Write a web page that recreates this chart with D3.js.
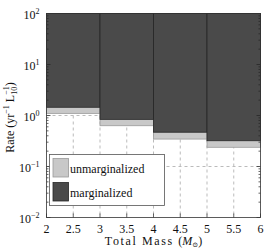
<!DOCTYPE html>
<html>
<head>
<meta charset="utf-8">
<script src="https://cdn.jsdelivr.net/npm/d3@7"></script>
<style>
  body { margin: 0; background: #fff; }
  text { font-family: "Liberation Serif", "DejaVu Serif", serif; fill: #111; }
</style>
</head>
<body>
<div id="chart"></div>
<script>
// mass bins and rate limits
const binEdges = [2, 3, 4, 5, 6];
const marginalized = [1.45, 0.84, 0.47, 0.32];
const unmarginalized = [1.10, 0.63, 0.345, 0.238];
const xTicks = [2, 2.5, 3, 3.5, 4, 4.5, 5, 5.5, 6];
const yExponents = [-2, -1, 0, 1, 2];

const W = 266, H = 249;
const margin = { top: 13.5, right: 5.5, bottom: 31.5, left: 46.5 };
const width = W - margin.left - margin.right,
      height = H - margin.top - margin.bottom;

const svg = d3.select("#chart").append("svg")
    .attr("width", W)
    .attr("height", H);

const g = svg.append("g")
    .attr("transform", `translate(${margin.left},${margin.top})`);

const x = d3.scaleLinear().domain([2, 6]).range([0, width]);
const y = d3.scaleLog().domain([0.01, 100]).range([height, 0]);

// grid
g.append("g").selectAll("line")
    .data(xTicks.slice(1, -1))
    .enter().append("line")
    .attr("x1", d => x(d)).attr("x2", d => x(d))
    .attr("y1", 0).attr("y2", height)
    .attr("stroke", "#bbb").attr("stroke-dasharray", "3,3");

g.append("g").selectAll("line")
    .data(yExponents.slice(1, -1))
    .enter().append("line")
    .attr("x1", 0).attr("x2", width)
    .attr("y1", d => y(Math.pow(10, d))).attr("y2", d => y(Math.pow(10, d)))
    .attr("stroke", "#bbb").attr("stroke-dasharray", "3,3");

const bins = marginalized.map((m, i) => ({
    x0: binEdges[i], x1: binEdges[i + 1], m: m, u: unmarginalized[i]
}));

// unmarginalized bars (light), hanging from the top
g.append("g").selectAll("rect")
    .data(bins)
    .enter().append("rect")
    .attr("x", d => x(d.x0))
    .attr("width", d => x(d.x1) - x(d.x0))
    .attr("y", y(100))
    .attr("height", d => y(d.u) - y(100))
    .attr("fill", "#c8c8c8")
    .attr("stroke", "#9a9a9a")
    .attr("stroke-width", 0.8);

// marginalized bars (dark)
g.append("g").selectAll("rect")
    .data(bins)
    .enter().append("rect")
    .attr("x", d => x(d.x0))
    .attr("width", d => x(d.x1) - x(d.x0))
    .attr("y", y(100))
    .attr("height", d => y(d.m) - y(100))
    .attr("fill", "#4a4a4a")
    .attr("stroke", "#262626")
    .attr("stroke-width", 0.8);

// ticks (inside)
const minor = [];
for (let e = -2; e < 2; e++) {
    for (let k = 1; k < 10; k++) minor.push(k * Math.pow(10, e));
}
const tickG = g.append("g").attr("stroke", "#222").attr("stroke-width", 0.7);
minor.forEach(v => {
    const len = (Math.abs(Math.log10(v) - Math.round(Math.log10(v))) < 1e-9) ? 4 : 2;
    tickG.append("line").attr("x1", 0).attr("x2", len).attr("y1", y(v)).attr("y2", y(v));
    tickG.append("line").attr("x1", width).attr("x2", width - len).attr("y1", y(v)).attr("y2", y(v));
});
xTicks.forEach(v => {
    tickG.append("line").attr("x1", x(v)).attr("x2", x(v)).attr("y1", height).attr("y2", height - 4);
});

// frame
g.append("rect")
    .attr("width", width).attr("height", height)
    .attr("fill", "none").attr("stroke", "#333").attr("stroke-width", 0.8);

// x tick labels
g.append("g").selectAll("text")
    .data(xTicks)
    .enter().append("text")
    .attr("x", d => x(d))
    .attr("y", height + 15)
    .attr("text-anchor", "middle")
    .attr("font-size", 12)
    .text(d => d);

// y tick labels (10^n)
const yl = g.append("g").selectAll("text")
    .data(yExponents)
    .enter().append("text")
    .attr("x", -7)
    .attr("y", d => y(Math.pow(10, d)) + 5)
    .attr("text-anchor", "end")
    .attr("font-size", 12);
yl.append("tspan").text("10");
yl.append("tspan").attr("dy", -5).attr("font-size", 8).text(d => d < 0 ? "\u2212" + (-d) : d);

// x label
const xl = svg.append("text")
    .attr("x", margin.left + width / 2)
    .attr("y", 245)
    .attr("text-anchor", "middle")
    .attr("font-size", 12);
xl.append("tspan").attr("letter-spacing", 1.6).text("Total Mass ");
xl.append("tspan").text("(");
xl.append("tspan").attr("font-style", "italic").text("M");
xl.append("tspan").attr("font-size", 7).attr("dy", 2).text("\u2299");
xl.append("tspan").attr("dy", -2).text(")");

// y label
const ylab = svg.append("text")
    .attr("transform", `translate(14,${margin.top + height / 2 + 2}) rotate(-90)`)
    .attr("text-anchor", "middle")
    .attr("font-size", 12);
ylab.append("tspan").text("Rate (yr");
ylab.append("tspan").attr("font-size", 8).attr("dy", -5).text("\u22121");
ylab.append("tspan").attr("dy", 5).text(" L");
ylab.append("tspan").attr("font-size", 8).attr("dy", 3).text("10");
ylab.append("tspan").attr("font-size", 8).attr("dy", -8).attr("dx", -8).text("\u22121");
ylab.append("tspan").attr("dy", 5).text(")");

// legend
const lg = g.append("g").attr("transform", "translate(3,141)");
lg.append("rect").attr("width", 115).attr("height", 51)
    .attr("fill", "#fff").attr("stroke", "#555").attr("stroke-width", 0.8);
const items = [
    { label: "unmarginalized", fill: "#c8c8c8", stroke: "#9a9a9a" },
    { label: "marginalized", fill: "#4a4a4a", stroke: "#262626" }
];
items.forEach((it, i) => {
    lg.append("rect").attr("x", 3.5).attr("y", 4 + i * 24)
        .attr("width", 15.5).attr("height", 18.5)
        .attr("fill", it.fill).attr("stroke", it.stroke).attr("stroke-width", 0.8);
    lg.append("text").attr("x", 20.5).attr("y", 18 + i * 24)
        .attr("font-size", 12).text(it.label);
});
</script>
</body>
</html>
